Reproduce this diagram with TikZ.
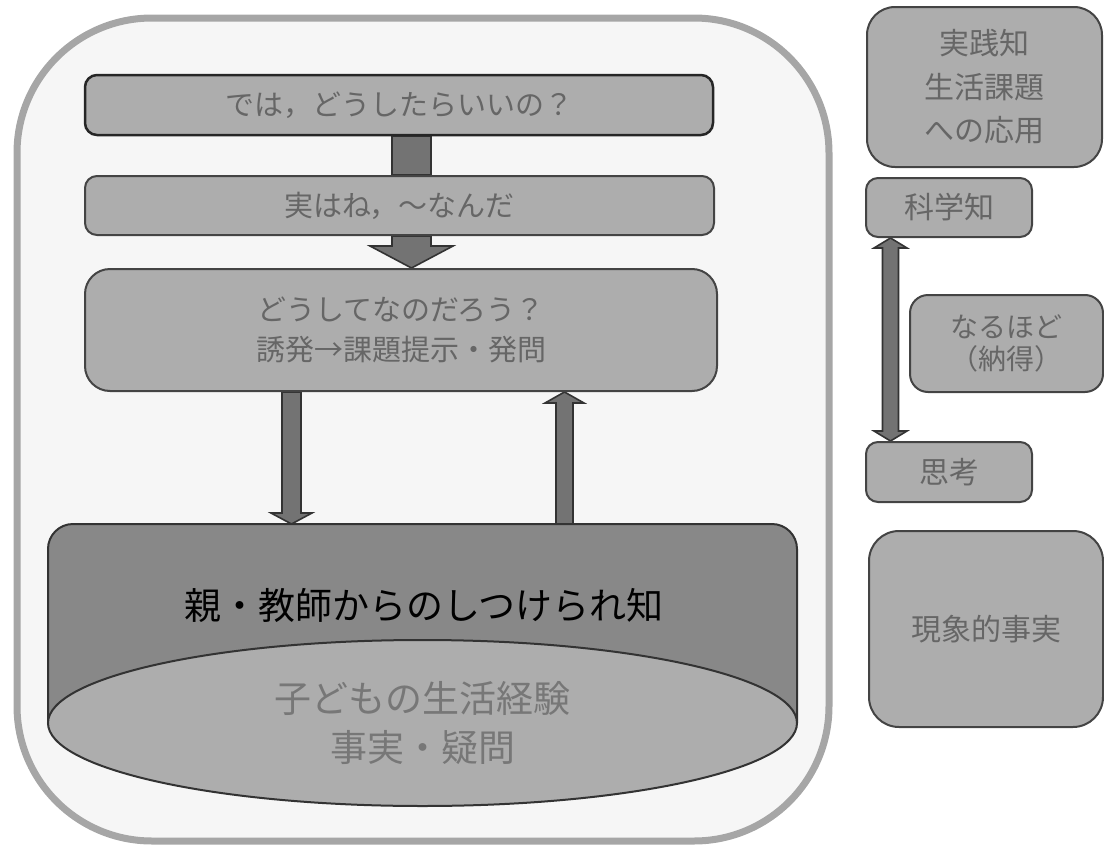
\documentclass[tikz,border=0pt]{standalone}
\usepackage{fontspec}
\newfontfamily\jp{Noto Sans CJK JP}
\usetikzlibrary{calc,shapes.geometric}
\pgfdeclarelayer{bg}
\pgfdeclarelayer{arr}
\pgfsetlayers{bg,arr,main}
\definecolor{boxfill}{HTML}{ADADAD}
\definecolor{txtgray}{HTML}{666666}
\definecolor{boxline}{HTML}{444444}
\definecolor{arrfill}{HTML}{737373}
\definecolor{arrline}{HTML}{333333}
\definecolor{cylfill}{HTML}{888888}
\definecolor{outerline}{HTML}{A6A6A6}
\definecolor{outerfill}{HTML}{F6F6F6}
\definecolor{elltext}{HTML}{777777}
\begin{document}
\begin{tikzpicture}[x=1pt,y=-1pt,
  box/.style={draw=boxline, line width=2pt, fill=boxfill, rounded corners=12pt,
    inner sep=0pt, text=txtgray, align=center, font=\jp\fontsize{29}{40}\selectfont},
  rbox/.style={box, font=\jp\fontsize{30}{43.5}\selectfont},
  blockarrow/.style={draw=arrline, line width=1.6pt, fill=arrfill, line join=miter},
  frame/.style={draw=outerline, line width=7pt, fill=outerfill, rounded corners=135pt,
    inner sep=0pt, minimum width=812pt, minimum height=823pt},
]
\useasboundingbox (0,0) rectangle (1104,846);

% outer frame
\begin{pgfonlayer}{bg}
\node[frame] (fr) at (423,429.5) {};
\end{pgfonlayer}

% left column boxes
\node[box, minimum width=628pt, minimum height=60pt, draw=black!85, line width=2.5pt] (b1) at (399,105) {では，どうしたらいいの？};
\node[box, minimum width=629pt, minimum height=59pt] (b2) at (399.5,205.5) {実はね，～なんだ};
\node[box, minimum width=632pt, minimum height=122pt, rounded corners=25pt] (b3) at (401,330) {どうしてなのだろう？\\誘発→課題提示・発問};

% cylinder
\coordinate (cyl) at (422.5,524);
\path[fill=cylfill, draw=arrline, line width=2pt, rounded corners=25pt]
  (48,723) -- (48,524) -- (797,524) -- (797,723);
\node[text=black, font=\jp\fontsize{37}{45}\selectfont] (ct) at (424,605) {親・教師からのしつけられ知};
\node[ellipse, draw=arrline, line width=2pt, fill=boxfill, inner sep=0pt,
  minimum width=749pt, minimum height=166pt, text=elltext, align=center,
  font=\jp\fontsize{37}{49}\selectfont] (ell) at (422.5,723) {子どもの生活経験\\事実・疑問};

% right column
\node[rbox, minimum width=235pt, minimum height=160pt, rounded corners=28pt] (r1) at (984.5,87) {実践知\\生活課題\\への応用};
\node[rbox, minimum width=166pt, minimum height=59pt] (r2) at (949,207.5) {科学知};
\node[rbox, minimum width=193pt, minimum height=97pt, rounded corners=18pt,
  font=\jp\fontsize{28}{32}\selectfont] (r3) at (1006.5,343.5) {なるほど\\（納得）};
\node[rbox, minimum width=166pt, minimum height=60pt] (r4) at (949,472) {思考};
\node[rbox, minimum width=234pt, minimum height=196pt, rounded corners=30pt] (r5) at (986,629) {現象的事実};

% arrows
\coordinate (xa) at (411.5,0);
\coordinate (xc) at (291.5,0);
\coordinate (xd) at (564.5,0);
\coordinate (xe) at (890.5,0);
\begin{pgfonlayer}{arr}
\draw[blockarrow] ($(b1.south -| xa)+(-19.5,0)$) rectangle ($(b2.north -| xa)+(19.5,0)$);
\draw[blockarrow] ($(b2.south -| xa)+(-19.5,0)$) -- ($(b3.north -| xa)+(-19.5,-22)$)
  -- ++(-22,0) -- (b3.north -| xa) -- ++(41.5,-22) -- ++(-22,0)
  -- ($(b2.south -| xa)+(19.5,0)$) -- cycle;
\draw[blockarrow] ($(b3.south -| xc)+(-9.5,0)$) -- ($(cyl -| xc)+(-9.5,-11)$)
  -- ++(-11,0) -- (cyl -| xc) -- ++(20.5,-11) -- ++(-11,0)
  -- ($(b3.south -| xc)+(9.5,0)$) -- cycle;
\draw[blockarrow] ($(cyl -| xd)+(-8.5,0)$) -- ($(b3.south -| xd)+(-8.5,11)$)
  -- ++(-11,0) -- (b3.south -| xd) -- ++(19.5,11) -- ++(-11,0)
  -- ($(cyl -| xd)+(8.5,0)$) -- cycle;
\draw[blockarrow] (r2.south -| xe) -- ++(16.5,10) -- ++(-8.5,0)
  -- ($(r4.north -| xe)+(8,-10)$) -- ++(8.5,0) -- (r4.north -| xe)
  -- ++(-16.5,-10) -- ++(8.5,0) -- ($(r2.south -| xe)+(-8,10)$) -- ++(-8.5,0) -- cycle;
\end{pgfonlayer}
\end{tikzpicture}
\end{document}
